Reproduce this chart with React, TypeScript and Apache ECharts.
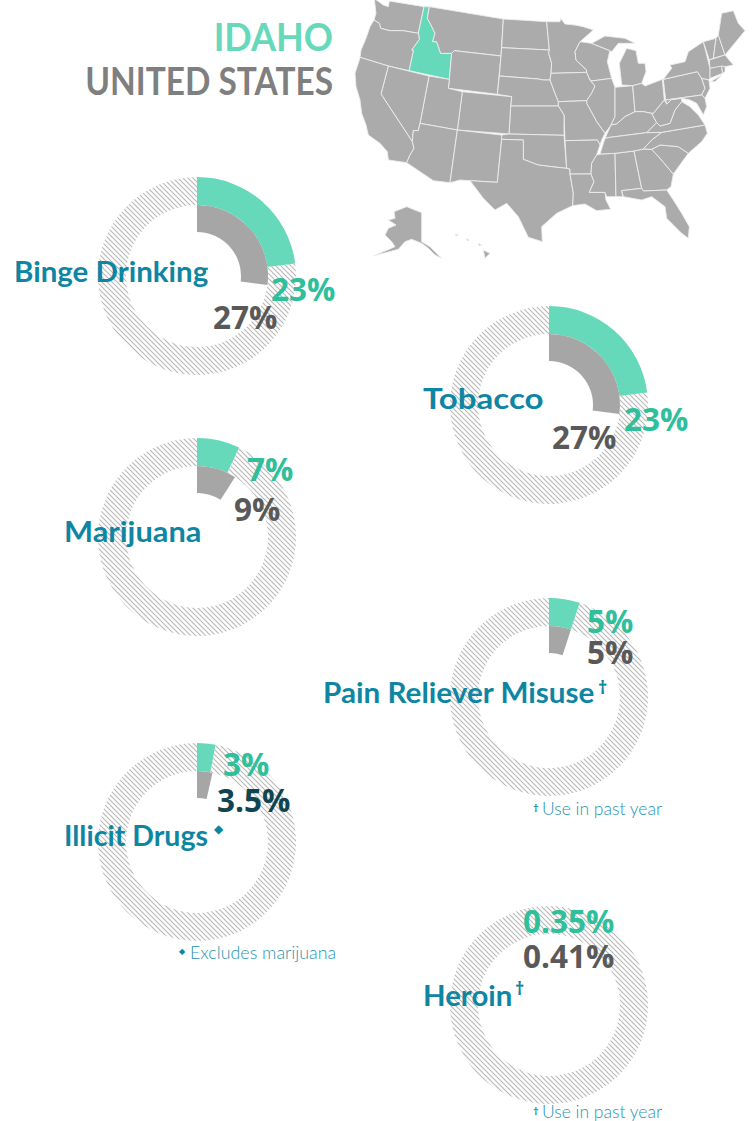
import React, { useEffect, useRef } from "react";
import * as echarts from "echarts";

const measures = ["Binge Drinking", "Tobacco", "Marijuana", "Pain Reliever Misuse", "Illicit Drugs", "Heroin"];
const idahoValues = [23, 23, 7, 5, 3, 0.35];
const usValues = [27, 27, 9, 5, 3.5, 0.41];
const smallestDrawnSlice = 1;

const TEAL = "#66D9BA", GRAY = "#A6A6A6", BLUE = "#0E86A3", GREEN = "#2FBF9B", DARK = "#595959", NOTE = "#1E93AF";
const centers: number[][] = [[197, 276], [549, 405], [197, 537], [549, 697], [197, 842], [549, 1005]];

const states: Record<string, number[][]> = {
  Washington: [[103,-3],[112,2],[130,15],[145,20],[148,3],[252,20],[235,100],[190,92],[150,92],[122,85],[118,70],[102,60],[108,40]],
  Idaho: [[252,20],[268,20],[262,55],[273,75],[285,100],[278,125],[290,125],[302,160],[335,160],[328,238],[207,212],[220,152],[215,150],[238,118],[235,100]],
  Oregon: [[102,60],[118,70],[122,85],[150,92],[190,92],[235,100],[238,118],[215,150],[220,152],[207,212],[145,198],[60,172],[63,150],[78,115],[90,80]],
  Montana: [[268,20],[490,57],[483,168],[343,152],[335,160],[302,160],[290,125],[278,125],[285,100],[273,75],[262,55]],
  Wyoming: [[343,152],[483,168],[472,283],[325,265],[328,238],[335,160]],
  "North Dakota": [[490,57],[620,65],[628,150],[485,143]],
  "South Dakota": [[485,143],[628,150],[626,160],[635,190],[633,220],[630,240],[610,240],[595,237],[478,228]],
  Nebraska: [[478,228],[595,237],[610,240],[630,240],[645,280],[655,305],[655,318],[512,318],[515,290],[472,283]],
  Minnesota: [[620,65],[660,65],[662,55],[675,72],[705,75],[730,80],[760,90],[720,125],[705,155],[708,180],[740,210],[740,217],[633,220],[635,190],[626,160],[628,150]],
  Iowa: [[633,220],[740,217],[750,240],[765,258],[755,280],[740,302],[655,305],[645,280],[630,240]],
  Wisconsin: [[720,125],[755,130],[805,150],[810,150],[802,185],[815,235],[755,243],[750,240],[740,217],[740,210],[708,180],[705,155]],
  "Upper Michigan": [[755,130],[795,108],[855,115],[885,130],[835,130],[815,155],[805,150]],
  Michigan: [[845,255],[838,190],[860,145],[888,152],[895,190],[915,190],[918,215],[905,250],[878,257]],
  Illinois: [[755,243],[815,235],[825,262],[825,350],[813,375],[795,400],[770,365],[740,310],[740,302],[755,280],[765,258],[750,240]],
  Indiana: [[825,262],[878,257],[885,335],[855,350],[830,372],[813,375],[825,350]],
  Ohio: [[878,257],[905,250],[915,258],[967,238],[973,300],[940,340],[935,340],[910,335],[885,335]],
  Kentucky: [[795,415],[813,375],[830,372],[855,350],[885,335],[910,335],[935,340],[950,368],[920,398],[810,412]],
  Missouri: [[655,305],[740,302],[740,310],[770,365],[795,400],[785,420],[780,435],[772,420],[675,422],[672,345],[655,318]],
  Kansas: [[512,318],[655,318],[672,345],[672,406],[507,402]],
  Colorado: [[367,275],[515,290],[512,318],[507,402],[352,390]],
  Utah: [[267,228],[328,238],[325,265],[367,275],[352,390],[240,370]],
  Nevada: [[145,198],[267,228],[240,370],[235,392],[220,392],[217,425],[123,282]],
  California: [[60,172],[145,198],[123,282],[217,425],[222,445],[210,465],[200,488],[145,480],[142,455],[120,430],[85,405],[78,375],[65,340],[60,300],[48,260],[45,220],[58,180]],
  Arizona: [[240,370],[352,390],[330,548],[280,542],[200,488],[210,465],[222,445],[217,425],[220,392],[235,392]],
  "New Mexico": [[352,390],[485,405],[485,418],[472,547],[390,542],[360,540],[330,548]],
  Oklahoma: [[485,405],[507,402],[672,406],[680,505],[635,500],[595,495],[550,478],[550,420],[485,418]],
  Texas: [[485,418],[550,420],[550,478],[595,495],[635,500],[680,505],[690,507],[690,522],[700,580],[698,617],[650,640],[605,680],[607,725],[565,712],[535,650],[500,610],[465,630],[430,595],[390,542],[472,547]],
  Arkansas: [[675,422],[772,420],[780,435],[770,465],[755,490],[753,522],[690,522],[690,507],[680,505]],
  Louisiana: [[690,522],[753,522],[762,545],[748,577],[795,577],[798,600],[812,628],[770,632],[735,612],[698,617],[700,580]],
  Mississippi: [[780,462],[825,460],[828,590],[800,590],[795,577],[748,577],[762,545],[753,522],[755,490],[770,465]],
  Alabama: [[825,460],[882,453],[905,565],[845,572],[848,590],[828,590]],
  Georgia: [[882,453],[910,447],[935,448],[960,475],[1000,522],[993,560],[980,570],[910,573],[905,565]],
  Florida: [[845,572],[905,565],[910,573],[980,570],[1000,600],[1025,640],[1048,680],[1045,715],[1025,700],[980,655],[975,620],[935,590],[905,600],[850,590]],
  "South Carolina": [[935,448],[960,435],[1015,440],[1045,460],[1000,522],[960,475]],
  "North Carolina": [[965,397],[1095,375],[1102,400],[1085,425],[1045,460],[1015,440],[960,435],[935,448],[910,447],[935,420]],
  Tennessee: [[795,415],[810,412],[920,398],[965,397],[935,420],[910,447],[882,453],[825,460],[780,462],[790,430]],
  Virginia: [[920,398],[950,368],[960,378],[990,370],[1005,330],[1025,305],[1050,320],[1075,345],[1095,375],[965,397]],
  "West Virginia": [[973,300],[980,312],[995,298],[1025,295],[1025,305],[1005,330],[990,370],[960,378],[950,368],[935,340],[940,340]],
  Pennsylvania: [[970,238],[1072,215],[1085,235],[1095,265],[1085,285],[977,300]],
  "New York": [[970,238],[995,205],[990,195],[1035,185],[1045,155],[1090,125],[1110,205],[1110,235],[1105,240],[1085,235],[1072,215]],
  "Long Island": [[1112,245],[1145,225],[1125,245]],
  "New Jersey": [[1085,235],[1107,240],[1110,265],[1095,295],[1085,285],[1095,265]],
  Maryland: [[977,300],[1085,285],[1095,295],[1100,320],[1090,345],[1070,310],[1050,300],[1025,295],[995,298],[980,312]],
  Vermont: [[1090,125],[1128,115],[1120,175],[1108,180]],
  "New Hampshire": [[1128,115],[1135,105],[1155,165],[1120,175]],
  Maine: [[1135,105],[1145,40],[1180,32],[1195,70],[1215,92],[1155,165]],
  Massachusetts: [[1108,180],[1155,165],[1180,195],[1155,200],[1110,205]],
  Connecticut: [[1110,205],[1145,198],[1148,220],[1110,235]],
  "Rhode Island": [[1145,198],[1155,200],[1155,215],[1148,220]],
  Alaska: [[162,635],[200,620],[245,638],[245,725],[270,740],[305,775],[285,765],[265,745],[245,730],[215,718],[195,725],[175,748],[100,768],[165,740],[155,725],[135,705],[145,685],[168,675],[145,660],[165,655]],
  Hawaii: [[430,750],[450,760],[435,775]],
  Maui: [[415,730],[425,735],[418,738]],
  Oahu: [[380,716],[388,720],[382,723]],
  Kauai: [[346,702],[355,704],[348,708]],
};

export default function App() {
  const ref = useRef<HTMLDivElement>(null);
  useEffect(() => {
    document.body.style.margin = "0";
    const features = Object.keys(states).map((name) => ({
      type: "Feature",
      properties: { name },
      geometry: { type: "Polygon", coordinates: [[...states[name], states[name][0]].map(([x, y]) => [x, -y])] },
    }));
    echarts.registerMap("us", { type: "FeatureCollection", features } as any);
    const all = Object.values(states).flat();
    const xs = all.map((p) => p[0]), ys = all.map((p) => p[1]);
    const x0 = Math.min(...xs), x1 = Math.max(...xs), y0 = Math.min(...ys), y1 = Math.max(...ys);
    const mapCx = 340 + (x0 + x1) / 6, mapCy = (y0 + y1) / 6, mapW = (x1 - x0) / 3;

    const tile = document.createElement("canvas");
    tile.width = 5; tile.height = 5;
    const c = tile.getContext("2d")!;
    c.strokeStyle = "#b8b8b8"; c.lineWidth = 1.1;
    c.beginPath();
    c.moveTo(-1, -1); c.lineTo(6, 6); c.moveTo(-1, 4); c.lineTo(1, 6); c.moveTo(4, -1); c.lineTo(6, 1);
    c.stroke();
    const hatch = { image: tile, repeat: "repeat" };

    const base = { type: "pie", silent: true, label: { show: false }, labelLine: { show: false }, emphasis: { disabled: true }, startAngle: 90, clockwise: true, animation: false };
    const series: any[] = [];
    measures.forEach((m, i) => {
      series.push({ ...base, name: m + " Idaho", center: centers[i], radius: [71, 99], data: [
        { name: "Idaho", value: idahoValues[i], itemStyle: { color: idahoValues[i] < smallestDrawnSlice ? hatch : TEAL } },
        { name: "rest", value: 100 - idahoValues[i], itemStyle: { color: hatch } },
      ] });
      series.push({ ...base, name: m + " United States", center: centers[i], radius: [44, 71], data: [
        { name: "United States", value: usValues[i], itemStyle: { color: usValues[i] < smallestDrawnSlice ? "transparent" : GRAY } },
        { name: "rest", value: 100 - usValues[i], itemStyle: { color: "transparent" } },
      ] });
    });

    const t = (text: string, x: number, y: number, fontSize: number, fill: string, fontFamily: string, fontWeight: any = 700, align = "left", scaleX = 1) => ({
      type: "text", x, y, scaleX, z: 20, silent: true,
      style: { text, fill, fontSize, fontFamily, fontWeight, textAlign: align, textVerticalAlign: "middle" },
    });
    const L = "Lato", N = "Open Sans";
    const pct = (v: number) => v + "%";
    const P = 31.5;
    const elements = [
      t("IDAHO", 333, 36, 38, TEAL, L, 700, "right", 0.95),
      t("UNITED STATES", 333, 81, 38, "#7F7F7F", L, 700, "right", 0.88),
      t(measures[0], 14, 271, 28, BLUE, L, 700, "left", 1.054),
      t(pct(idahoValues[0]), 271, 288, P, GREEN, N),
      t(pct(usValues[0]), 213, 316, P, DARK, N),
      t(measures[1], 423, 398, 28, BLUE, L, 700, "left", 1.18),
      t(pct(idahoValues[1]), 624, 418, P, GREEN, N),
      t(pct(usValues[1]), 552, 436, P, DARK, N),
      t(measures[2], 64, 531, 28, BLUE, L, 700, "left", 1.1),
      t(pct(idahoValues[2]), 247, 468, P, GREEN, N),
      t(pct(usValues[2]), 234, 508, P, DARK, N),
      t(measures[3], 323, 692, 28, BLUE, L, 700, "left", 1.06),
      t("†", 598, 687, 18, BLUE, N),
      t(pct(idahoValues[3]), 587, 620, P, GREEN, N),
      t(pct(usValues[3]), 587, 651, P, DARK, N),
      t("†", 533, 807, 11, NOTE, N),
      t("Use in past year", 542, 809, 17, NOTE, L, 300, "left", 1.03),
      t(measures[4], 64, 835, 28, BLUE, L, 700, "left", 1.02),
      t("◆", 214, 829, 12, BLUE, "DejaVu Sans"),
      t(pct(idahoValues[4]), 223, 763, P, GREEN, N),
      t(pct(usValues[4]), 217, 799, P, "#0F4550", N),
      t("◆", 179, 951, 8, BLUE, "DejaVu Sans"),
      t("Excludes marijuana", 190, 953, 17, NOTE, L, 300, "left", 1.05),
      t(measures[5], 423, 995, 28, BLUE, L, 700, "left", 1.05),
      t("†", 515, 988, 18, BLUE, N),
      t(pct(idahoValues[5]), 523, 920, P, GREEN, N),
      t(pct(usValues[5]), 523, 955, P, DARK, N),
      t("†", 533, 1110, 11, NOTE, N),
      t("Use in past year", 542, 1112, 17, NOTE, L, 300, "left", 1.03),
    ];

    const chart = echarts.init(ref.current!, undefined, { renderer: "svg" });
    chart.setOption({
      animation: false,
      geo: {
        map: "us", silent: true, aspectScale: 1, roam: false, z: 1,
        layoutCenter: [mapCx, mapCy], layoutSize: mapW,
        itemStyle: { areaColor: "#ABABAB", borderColor: "#EDEDED", borderWidth: 0.9 },
        label: { show: false },
        regions: [{ name: "Idaho", itemStyle: { areaColor: TEAL } }],
      },
      series,
      graphic: { elements },
    });
    return () => chart.dispose();
  }, []);
  return <div ref={ref} style={{ position: "absolute", left: 0, top: 0, width: 752, height: 1121 }} />;
}
